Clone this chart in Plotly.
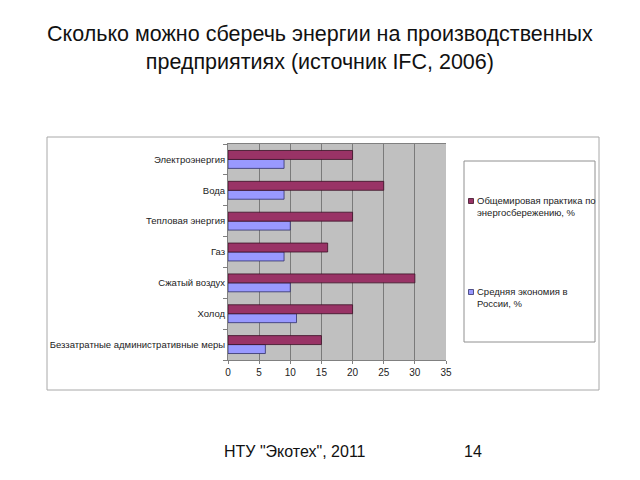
import plotly.graph_objects as go

# ---- data ----
categories = [
    "Беззатратные административные меры",
    "Холод",
    "Сжатый воздух",
    "Газ",
    "Тепловая энергия",
    "Вода",
    "Электроэнергия",
]
world_practice = [15, 20, 30, 16, 20, 25, 20]
russia_avg = [6, 11, 10, 9, 10, 9, 9]
series_names = ["Общемировая практика по<br>энергосбережению, %", "Средняя экономия в<br>России, %"]
x_ticks = [0, 5, 10, 15, 20, 25, 30, 35]
title_text = "Сколько можно сберечь энергии на производственных<br>предприятиях (источник IFC, 2006)"
footer_text = "НТУ \"Экотех\", 2011"
page_number = "14"

MAROON = "#993366"
BLUE = "#9999FF"
FONT = "Liberation Sans, Arial"

# ---- layout geometry (pixels) ----
W, H = 640, 480
L, R, T, B = 228, 446, 144, 360  # plot area box


def px(x):
    return (x - L) / (R - L)


def py(y):
    return (B - y) / (B - T)


fig = go.Figure()
fig.add_trace(go.Bar(
    y=categories, x=russia_avg, orientation="h", name=series_names[1],
    marker=dict(color=BLUE, line=dict(color="#30306a", width=0.8)),
    showlegend=False,
))
fig.add_trace(go.Bar(
    y=categories, x=world_practice, orientation="h", name=series_names[0],
    marker=dict(color=MAROON, line=dict(color="#3a1025", width=0.8)),
    showlegend=False,
))

shapes = [
    # outer chart frame
    dict(type="rect", xref="paper", yref="paper", x0=px(47), x1=px(599), y0=py(390), y1=py(137),
         line=dict(color="#a8a8a8", width=1), fillcolor="rgba(0,0,0,0)", layer="below"),
    # legend frame
    dict(type="rect", xref="paper", yref="paper", x0=px(464), x1=px(595), y0=py(342), y1=py(161),
         line=dict(color="#909090", width=1), fillcolor="white"),
    # legend symbols
    dict(type="rect", xref="paper", yref="paper", x0=px(468.5), x1=px(473.5), y0=py(203.5), y1=py(198.5),
         line=dict(color="#3a1025", width=0.8), fillcolor=MAROON),
    dict(type="rect", xref="paper", yref="paper", x0=px(468.5), x1=px(473.5), y0=py(294.5), y1=py(289.5),
         line=dict(color="#30306a", width=0.8), fillcolor=BLUE),
]

annotations = [
    dict(text=title_text, xref="paper", yref="paper", x=px(320), y=py(48), xanchor="center", yanchor="middle",
         showarrow=False, font=dict(family=FONT, size=21.5, color="#111")),
    dict(text=series_names[0], xref="paper", yref="paper", x=px(475), y=py(206.5), xanchor="left",
         yanchor="middle", align="left", showarrow=False,
         font=dict(family=FONT, size=9.5, color="#222")),
    dict(text=series_names[1], xref="paper", yref="paper", x=px(475), y=py(297.5), xanchor="left",
         yanchor="middle", align="left", showarrow=False,
         font=dict(family=FONT, size=9.5, color="#222")),
    dict(text=footer_text, xref="paper", yref="paper", x=px(295), y=py(451), xanchor="center",
         yanchor="middle", showarrow=False, font=dict(family=FONT, size=16, color="#111")),
    dict(text=page_number, xref="paper", yref="paper", x=px(473), y=py(451), xanchor="center",
         yanchor="middle", showarrow=False, font=dict(family=FONT, size=16, color="#111")),
]

fig.update_layout(
    width=W, height=H,
    margin=dict(l=L, r=W - R, t=T, b=H - B, pad=0),
    paper_bgcolor="white",
    plot_bgcolor="#C0C0C0",
    barmode="group",
    bargap=0.42,
    bargroupgap=0,
    showlegend=False,
    shapes=shapes,
    annotations=annotations,
    font=dict(family=FONT, color="#222"),
)
fig.update_xaxes(
    range=[0, 35], tickvals=x_ticks, ticktext=[str(v) for v in x_ticks],
    showgrid=True, gridcolor="#7a7a7a", gridwidth=1,
    showline=True, linecolor="#808080", linewidth=1, mirror=True,
    ticks="outside", ticklen=3, tickcolor="#808080",
    tickfont=dict(size=10, color="#222"), zeroline=False,
)
fig.update_yaxes(
    type="category", categoryorder="array", categoryarray=categories,
    showline=True, linecolor="#808080", linewidth=1,
    ticks="outside", ticklen=4, tickcolor="#808080", tickson="boundaries",
    tickfont=dict(size=9.5, color="#222"), showgrid=False,
)

fig.write_html("out.html")
